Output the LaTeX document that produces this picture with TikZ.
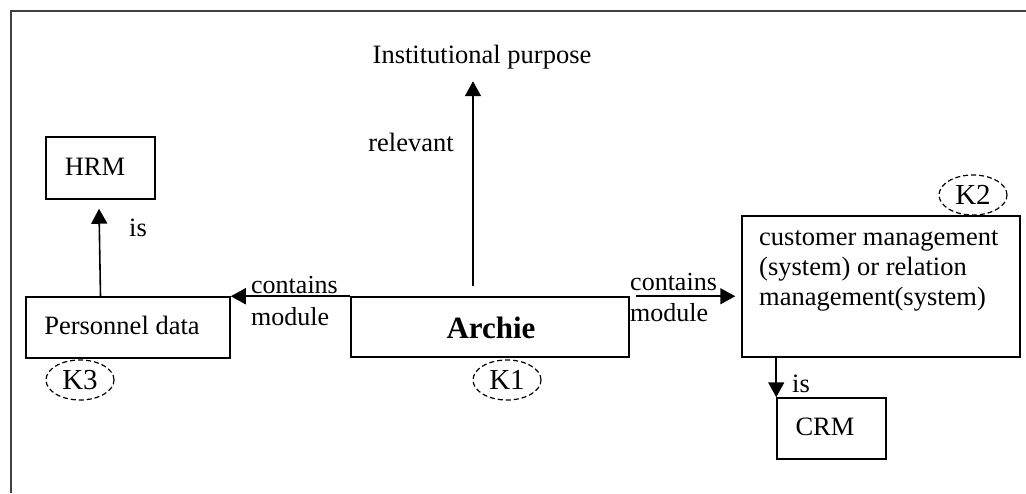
\documentclass[tikz,border=0pt]{standalone}
\usepackage{fontspec}
\setmainfont{Liberation Serif}
\usetikzlibrary{arrows.meta,shapes.geometric}
\begin{document}
\begin{tikzpicture}[x=1pt,y=-1pt,
  font=\fontsize{26.5}{30}\selectfont,
  box/.style={draw, line width=1.5pt, rectangle, inner sep=0pt},
  kell/.style={draw, dash pattern=on 5pt off 3pt, line width=1.2pt, ellipse, minimum width=68pt, minimum height=40pt, inner sep=0pt, font=\fontsize{29}{30}\selectfont},
  conn/.style={line width=1.6pt, -{Triangle[length=15pt,width=16pt]}},
  lbl/.style={inner sep=0pt}
]
\useasboundingbox (0,0) rectangle (1026,493);
% frame
\coordinate (fbl) at (11,493);
\coordinate (ftl) at (11,11);
\coordinate (ftr) at (1026,11);
\draw[line width=2pt, color=black!75] (fbl) -- (ftl) -- (ftr);

% boxes
\node[box, minimum width=109pt, minimum height=62pt] (hrm) at (100.5,168) {};
\node[lbl] (hrmt) at (95,167) {HRM};
\node[box, minimum width=204pt, minimum height=61pt] (pers) at (128,327.5) {};
\node[lbl] (perst) at (122,325) {Personnel data};
\node[box, minimum width=278pt, minimum height=60pt] (archie) at (490,327) {};
\node[lbl, font=\fontsize{31}{34}\selectfont\bfseries] (archiet) at (491,328) {Archie};
\node[box, minimum width=278pt, minimum height=141pt] (cust) at (881,286.5) {};
\node[lbl, align=left, anchor=north west] (custt) at (759,230) {customer management\\(system) or relation\\management(system)};
\node[box, minimum width=109pt, minimum height=61pt] (crm) at (831.5,428.5) {};
\node[lbl] (crmt) at (825,427) {CRM};

\node[lbl] (inst) at (482,57) {Institutional purpose};

% ellipses
\node[kell] (k1) at (507,380) {K1};
\node[kell] (k2) at (973,195) {K2};
\node[kell] (k3) at (80,380) {K3};

% connectors
\draw[conn] ([shift={(-17,-10)}]archie.north) -- ([shift={(-9,12)}]inst.south);
\draw[conn] (archie.north west) -- (pers.north east);
\draw[conn] ([xshift=6pt]archie.north east) -- ([xshift=-6pt]cust.west |- archie.north);
\draw[conn] (pers.north -| hrm.south) -- ([shift={(-1.5,9)}]hrm.south);
\draw[conn] (cust.south -| crm.north west) -- (crm.north west);

% labels
\node[lbl] (rel) at (411,142) {relevant};
\node[lbl] (is1) at (138,228) {is};
\node[lbl] (is2) at (801,384) {is};
\node[lbl, align=left, anchor=west, font=\fontsize{26}{32}\selectfont] (cm1) at (251,301) {contains\\module};
\node[lbl, align=left, anchor=west, font=\fontsize{26}{31}\selectfont] (cm2) at (630,298) {contains\\module};
\end{tikzpicture}
\end{document}
